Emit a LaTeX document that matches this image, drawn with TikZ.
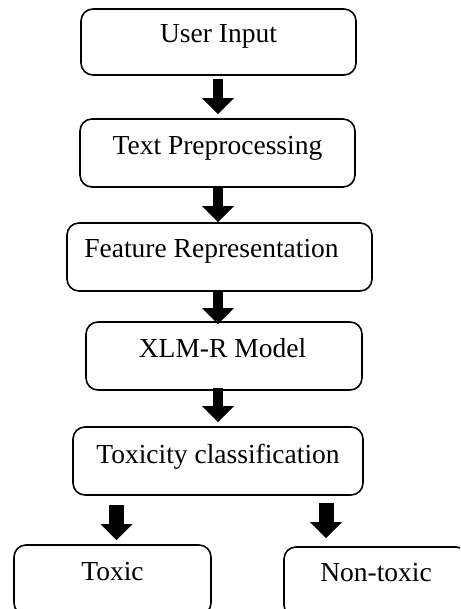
\documentclass[tikz,border=0pt]{standalone}
\usepackage{fontspec}
\setmainfont{Liberation Serif}
\usetikzlibrary{arrows.meta}
\begin{document}
\begin{tikzpicture}[x=1pt,y=-1pt,
  box/.style={draw, line width=1.6pt, rounded corners=12pt, inner sep=0pt, anchor=base,
    font=\fontsize{27.5}{32}\selectfont},
  blk/.style={line width=#1, -{Triangle[width=32pt,length=16pt,line width=0pt]}},
  blk/.default=10.5pt]
\useasboundingbox (0,0) rectangle (460,609);
\clip (0,0) rectangle (460,609);
\node[box, minimum width=275pt, text height=34pt, text depth=32pt] (b1) at (218.5,43) {User Input};
\node[box, minimum width=275pt, text height=36pt, text depth=32pt] (b2) at (217.5,155) {Text Preprocessing};
\node[box, minimum width=305pt, text height=35pt, text depth=33pt] (b3) at (219.5,258) {Feature Representation\kern16pt};
\node[box, minimum width=276pt, text height=35pt, text depth=33pt] (b4) at (224,357) {XLM-R Model\kern3pt};
\node[box, minimum width=290pt, text height=36pt, text depth=32pt] (b5) at (218,463) {Toxicity classification};
\node[box, minimum width=197pt, text height=35pt, text depth=35pt] (tox) at (112.5,580) {Toxic};
\node[box, minimum width=184pt, text height=34pt, text depth=36pt] (non) at (376,581) {Non-toxic};
\coordinate (ax) at (218,0);
\coordinate (axl) at (116.5,0);
\coordinate (axr) at (326,0);
\draw[blk, shorten <=3pt, shorten >=4pt] (b1.south -| ax) -- (b2.north -| ax);
\draw[blk, shorten <=0pt, shorten >=0pt] (b2.south -| ax) -- (b3.north -| ax);
\draw[blk, shorten <=0pt, shorten >=-3pt] (b3.south -| ax) -- (b4.north -| ax);
\draw[blk, shorten <=-3pt, shorten >=4pt] (b4.south -| ax) -- (b5.north -| ax);
\draw[blk=15pt, shorten <=9pt, shorten >=4pt] (b5.south -| axl) -- (tox.north -| axl);
\draw[blk=15pt, shorten <=7pt, shorten >=8pt] (b5.south -| axr) -- (non.north -| axr);
\end{tikzpicture}
\end{document}
